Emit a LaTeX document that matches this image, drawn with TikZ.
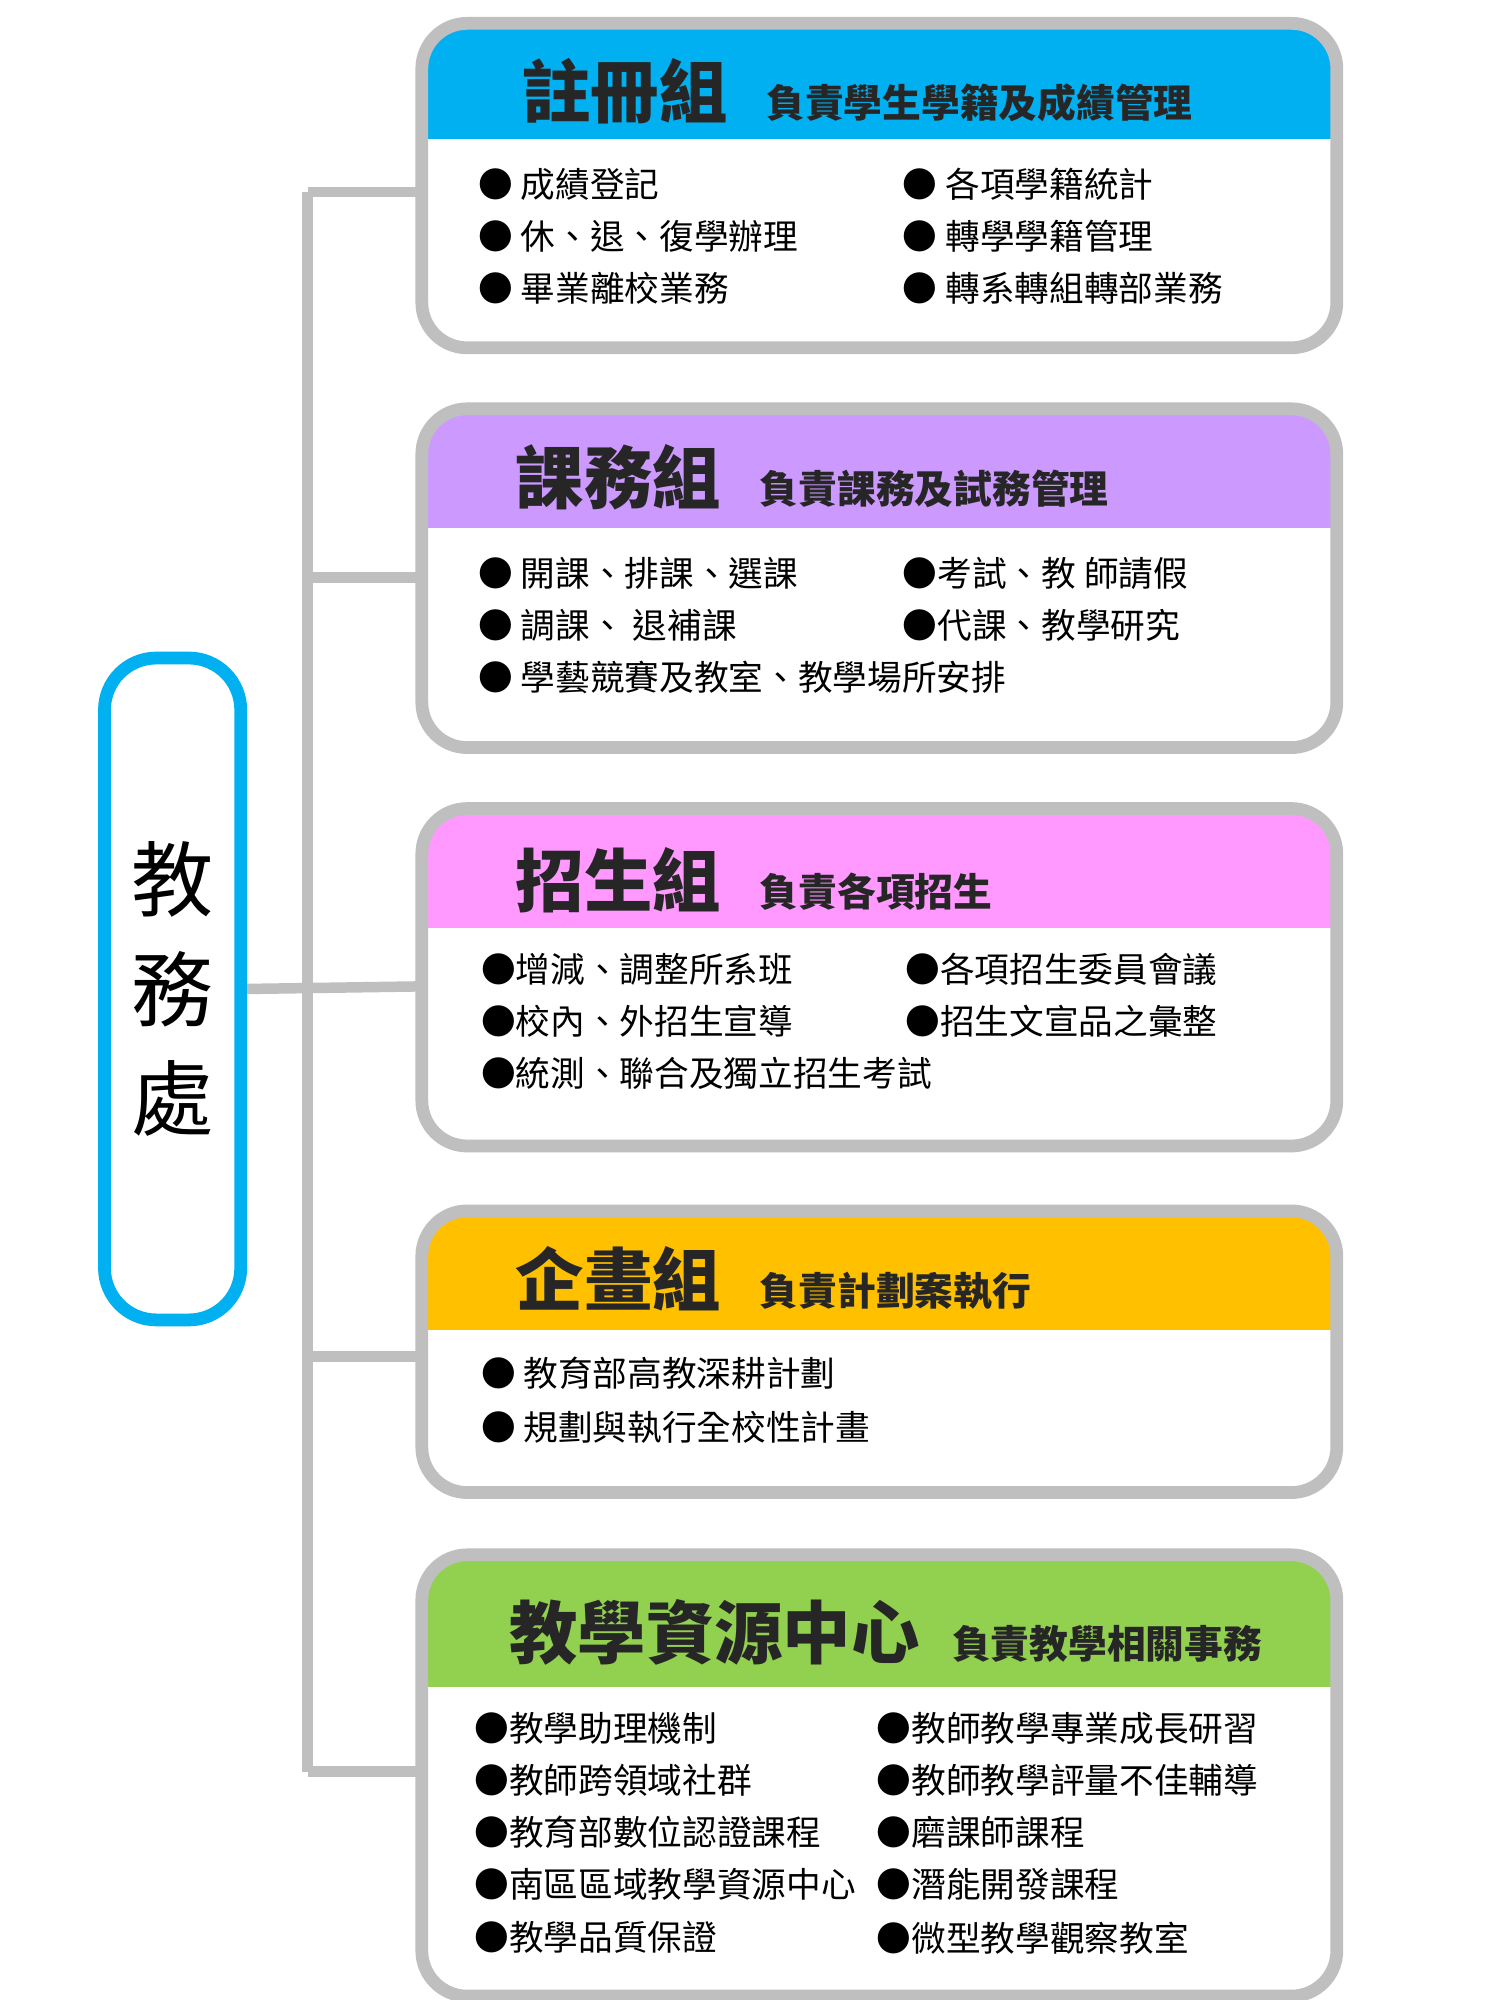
\documentclass[tikz,border=0pt]{standalone}
\usepackage{fontspec}
\setmainfont{Noto Sans CJK TC}
\usetikzlibrary{positioning}
\definecolor{kCyan}{RGB}{0,176,240}
\definecolor{kPurple}{RGB}{204,153,255}
\definecolor{kPink}{RGB}{255,153,255}
\definecolor{kOrange}{RGB}{255,192,0}
\definecolor{kGreen}{RGB}{146,208,80}
\definecolor{kGrey}{RGB}{191,191,191}
\tikzset{
  branch/.style={color=kGrey,line width=2.3pt},
  frame/.style={draw=kGrey,line width=2.8pt,rounded corners=3.5mm},
  title/.style={anchor=west,font=\fontsize{15}{15}\selectfont\bfseries,text=black!85},
  subtitle/.style={anchor=base west,font=\fontsize{8.5}{9}\selectfont\bfseries,text=black!85},
  item/.style={anchor=west,font=\fontsize{7.6}{8}\selectfont,inner sep=0pt}
}
% one group: name, top, header bottom, bottom, colour, branch height
\newcommand{\groupbox}[6]{
  \fill[white,rounded corners=3.5mm] (325,#2) rectangle (1030,#4);
  \begin{scope}
    \clip[rounded corners=3.5mm] (325,#2) rectangle (1030,#4);
    \fill[#5] (325,#2) rectangle (1030,#3);
  \end{scope}
  \draw[frame] (325,#2) rectangle (1030,#4);
  \coordinate (#1) at (325,#6);
  \coordinate (#1t) at (237,#6);
}
\begin{document}
\begin{tikzpicture}[x=0.1mm,y=-0.1mm]
  \useasboundingbox (0,0) rectangle (1156,1541);

  % groups
  \groupbox{g1}{18}{107}{268}{kCyan}{148}
  \groupbox{g2}{315}{407}{576}{kPurple}{445}
  \groupbox{g3}{623}{715}{883}{kPink}{760}
  \groupbox{g4}{933}{1025}{1150}{kOrange}{1045}
  \groupbox{g5}{1198}{1300}{1538}{kGreen}{1365}

  % titles
  \node[title] (t1) at (390,70) {註冊組};
  \node[subtitle,right=0.5mm of t1.base east,anchor=base west] {負責學生學籍及成績管理};
  \node[title] (t2) at (385,368) {課務組};
  \node[subtitle,right=0.5mm of t2.base east,anchor=base west] {負責課務及試務管理};
  \node[title] (t3) at (385,678) {招生組};
  \node[subtitle,right=0.5mm of t3.base east,anchor=base west] {負責各項招生};
  \node[title] (t4) at (385,985) {企畫組};
  \node[subtitle,right=0.5mm of t4.base east,anchor=base west] {負責計劃案執行};
  \node[title] (t5) at (380,1258) {教學資源中心};
  \node[subtitle,right=0mm of t5.base east,anchor=base west] {負責教學相關事務};

  % items
  \foreach \x/\y/\txt in {
      368/142/● 成績登記, 368/182/● 休、退、復學辦理, 368/222/● 畢業離校業務,
      695/142/● 各項學籍統計, 695/182/● 轉學學籍管理, 695/222/● 轉系轉組轉部業務,
      368/442/● 開課、排課、選課, 368/482/● 調課、 退補課, 368/522/● 學藝競賽及教室、教學場所安排,
      695/442/●考試、教 師請假, 695/482/●代課、教學研究,
      370/747/●增減、調整所系班, 370/787/●校內、外招生宣導, 370/827/●統測、聯合及獨立招生考試,
      697/747/●各項招生委員會議, 697/787/●招生文宣品之彙整,
      370/1058/● 教育部高教深耕計劃, 370/1100/● 規劃與執行全校性計畫,
      365/1332/●教學助理機制, 365/1372/●教師跨領域社群, 365/1412/●教育部數位認證課程,
      365/1452/●南區區域教學資源中心, 365/1493/●教學品質保證,
      675/1332/●教師教學專業成長研習, 675/1372/●教師教學評量不佳輔導, 675/1412/●磨課師課程,
      675/1452/●潛能開發課程, 675/1493/●微型教學觀察教室
    }
  {
    \node[item] at (\x,\y) {\txt};
  }

  % head office
  \node[draw=kCyan,line width=2.8pt,rounded corners=4mm,fill=white,
        minimum width=10.5mm,minimum height=51mm,align=center,
        font=\fontsize{18}{24}\selectfont] (jw) at (133,762) {教\\務\\處};

  % tree
  \draw[branch] (g1t) -- (g5t);
  \draw[branch] (jw.east) -- (g3);
  \foreach \n in {g1,g2,g4,g5}
  {
    \draw[branch] (\n t) -- (\n);
  }
\end{tikzpicture}
\end{document}
